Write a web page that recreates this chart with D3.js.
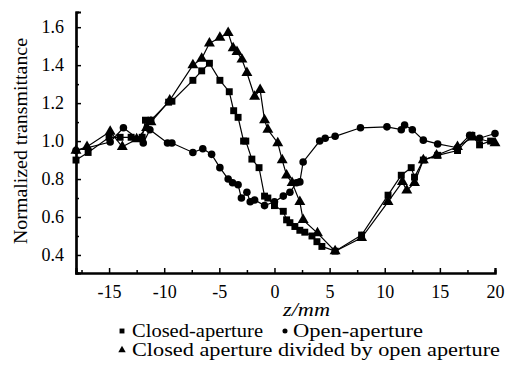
<!DOCTYPE html>
<html>
<head>
<meta charset="utf-8">
<script src="https://cdn.jsdelivr.net/npm/d3@7"></script>
<style>
  #chart text { font-family: "Liberation Serif", "Times New Roman", serif; fill: #000; }
</style>
</head>
<body style="margin:0">
<svg id="chart" width="510" height="367" font-family="Liberation Serif" font-size="18">
  <text transform="translate(27,141) rotate(-90)" text-anchor="middle" textLength="206" lengthAdjust="spacingAndGlyphs">Normalized transmittance</text>
  <text x="283" y="316" font-style="italic" textLength="47" lengthAdjust="spacingAndGlyphs">z/mm</text>
  <text x="132" y="337" textLength="131" lengthAdjust="spacingAndGlyphs">Closed-aperture</text>
  <text x="293" y="337" textLength="130" lengthAdjust="spacingAndGlyphs">Open-aperture</text>
  <text x="132" y="356" textLength="368" lengthAdjust="spacingAndGlyphs">Closed aperture divided by open aperture</text>
</svg>
<script>
// z positions (mm) and normalized transmittance
const closedZ = [-18, -16.9, -15, -14, -13, -12, -11.7, -11.2, -9.6, -9.3, -7.4, -6.6, -5.9, -4.95, -4.1, -3.7, -3.3, -2.8, -2.6, -2.05, -1.4, -0.9, -0.6, 0.0, 0.8, 1.1, 1.4, 1.85, 2.3, 2.75, 3.4, 3.85, 4.3, 5.5, 7.9, 10.3, 11.5, 12.4, 12.7, 13.5, 14.8, 16.6, 17.9, 18.6, 19.6];
const closedT = [0.90, 0.94, 1.02, 1.02, 1.02, 1.02, 1.11, 1.11, 1.205, 1.21, 1.32, 1.37, 1.41, 1.32, 1.26, 1.16, 1.125, 1.0, 1.0, 0.905, 0.86, 0.71, 0.70, 0.66, 0.63, 0.585, 0.57, 0.55, 0.53, 0.52, 0.50, 0.47, 0.445, 0.42, 0.505, 0.715, 0.82, 0.86, 0.81, 0.90, 0.925, 0.95, 1.03, 0.98, 1.0];

const openZ = [-18, -14.9, -13.7, -11.9, -11.3, -9.7, -9.3, -7.4, -6.5, -5.7, -4.95, -4.2, -3.8, -3.3, -3.0, -2.5, -2.2, -1.8, -0.9, 0.0, 0.8, 1.4, 2.0, 2.3, 2.6, 4.1, 4.6, 5.5, 7.8, 10.2, 11.5, 11.8, 12.5, 13.5, 14.8, 16.6, 17.7, 18.6, 20];
const openT = [0.95, 0.995, 1.07, 0.99, 1.06, 0.99, 0.99, 0.94, 0.96, 0.93, 0.86, 0.80, 0.78, 0.77, 0.70, 0.73, 0.68, 0.69, 0.66, 0.68, 0.71, 0.73, 0.78, 0.785, 0.89, 1.0, 1.015, 1.025, 1.07, 1.075, 1.06, 1.085, 1.06, 1.005, 0.985, 0.965, 1.03, 1.015, 1.04];

const ratioZ = [-18, -17, -14.9, -13.8, -12.5, -11.6, -11.2, -9.5, -7.4, -6.6, -5.9, -4.95, -4.2, -3.75, -3.4, -2.95, -2.5, -1.8, -1.3, -0.9, -0.6, 0.3, 0.7, 1.1, 1.6, 2.3, 2.6, 3.9, 5.5, 7.9, 10.3, 11.6, 12.0, 12.7, 13.5, 14.7, 16.6, 18.0, 20];
const ratioT = [0.95, 0.97, 1.05, 0.97, 1.01, 1.07, 1.10, 1.215, 1.40, 1.435, 1.515, 1.545, 1.57, 1.49, 1.47, 1.43, 1.36, 1.235, 1.27, 1.11, 1.06, 0.99, 0.90, 0.82, 0.78, 0.68, 0.585, 0.515, 0.42, 0.49, 0.68, 0.785, 0.74, 0.78, 0.90, 0.925, 0.97, 1.02, 0.99];

const xTicks = [-15, -10, -5, 0, 5, 10, 15, 20];
const xMinor = [-17.5, -12.5, -7.5, -2.5, 2.5, 7.5, 12.5, 17.5];
const yTicks = [0.4, 0.6, 0.8, 1.0, 1.2, 1.4, 1.6];
const yMinor = [0.5, 0.7, 0.9, 1.1, 1.3, 1.5];

const width = 510, height = 367;
const margin = { left: 76, top: 12, right: 15, bottom: 94 };
const FONT = "Liberation Serif";

const svg = d3.select("#chart");

const x = d3.scaleLinear().domain([-18, 20]).range([margin.left, width - margin.right]);
const y = d3.scaleLinear().domain([0.305, 1.68]).range([height - margin.bottom, margin.top]);

// axes with inward ticks, minor ticks drawn as a second unlabeled axis
const xAxis = svg.append("g").attr("transform", "translate(0," + (height - margin.bottom) + ")");
xAxis.call(d3.axisBottom(x).tickValues(xTicks).tickSize(-5).tickPadding(12)
  .tickFormat(d => d < 0 ? "-" + Math.abs(d) : String(d)));
xAxis.append("g").call(d3.axisBottom(x).tickValues(xMinor).tickSize(-3).tickFormat(""));

const yAxis = svg.append("g").attr("transform", "translate(" + margin.left + ",0)");
yAxis.call(d3.axisLeft(y).tickValues(yTicks).tickSize(-5).tickPadding(12).tickFormat(d3.format(".1f")));
yAxis.append("g").call(d3.axisLeft(y).tickValues(yMinor).tickSize(-3).tickFormat(""));

svg.selectAll("g").attr("font-family", FONT).attr("font-size", 18);
svg.selectAll(".domain").attr("stroke", "#000").attr("stroke-width", 2.2);
svg.selectAll(".tick line").attr("stroke", "#000").attr("stroke-width", 1.5);
svg.selectAll(".tick text").attr("fill", "#000").style("font-family", FONT);

// series
function series(zs, ts) { return zs.map((z, i) => ({ z: z, t: ts[i] })); }
const line = d3.line().x(d => x(d.z)).y(d => y(d.t));

const sets = [
  { data: series(closedZ, closedT), sym: d3.symbolSquare, size: 48 },
  { data: series(openZ, openT), sym: d3.symbolCircle, size: 45 },
  { data: series(ratioZ, ratioT), sym: d3.symbolTriangle, size: 52 }
];

sets.forEach(s => {
  svg.append("path").datum(s.data)
    .attr("d", line).attr("fill", "none").attr("stroke", "#000").attr("stroke-width", 1.2);
});
sets.forEach(s => {
  svg.append("g").selectAll("path").data(s.data).enter().append("path")
    .attr("transform", d => "translate(" + x(d.z) + "," + y(d.t) + ")")
    .attr("d", d3.symbol().type(s.sym).size(s.size))
    .attr("fill", "#000");
});

// legend markers
const legend = svg.append("g");
legend.append("path").attr("transform", "translate(122,331)")
  .attr("d", d3.symbol().type(d3.symbolSquare).size(24)).attr("fill", "#000");
legend.append("path").attr("transform", "translate(285,331)")
  .attr("d", d3.symbol().type(d3.symbolCircle).size(20)).attr("fill", "#000");
legend.append("path").attr("transform", "translate(122,350)")
  .attr("d", d3.symbol().type(d3.symbolTriangle).size(24)).attr("fill", "#000");
</script>
</body>
</html>
